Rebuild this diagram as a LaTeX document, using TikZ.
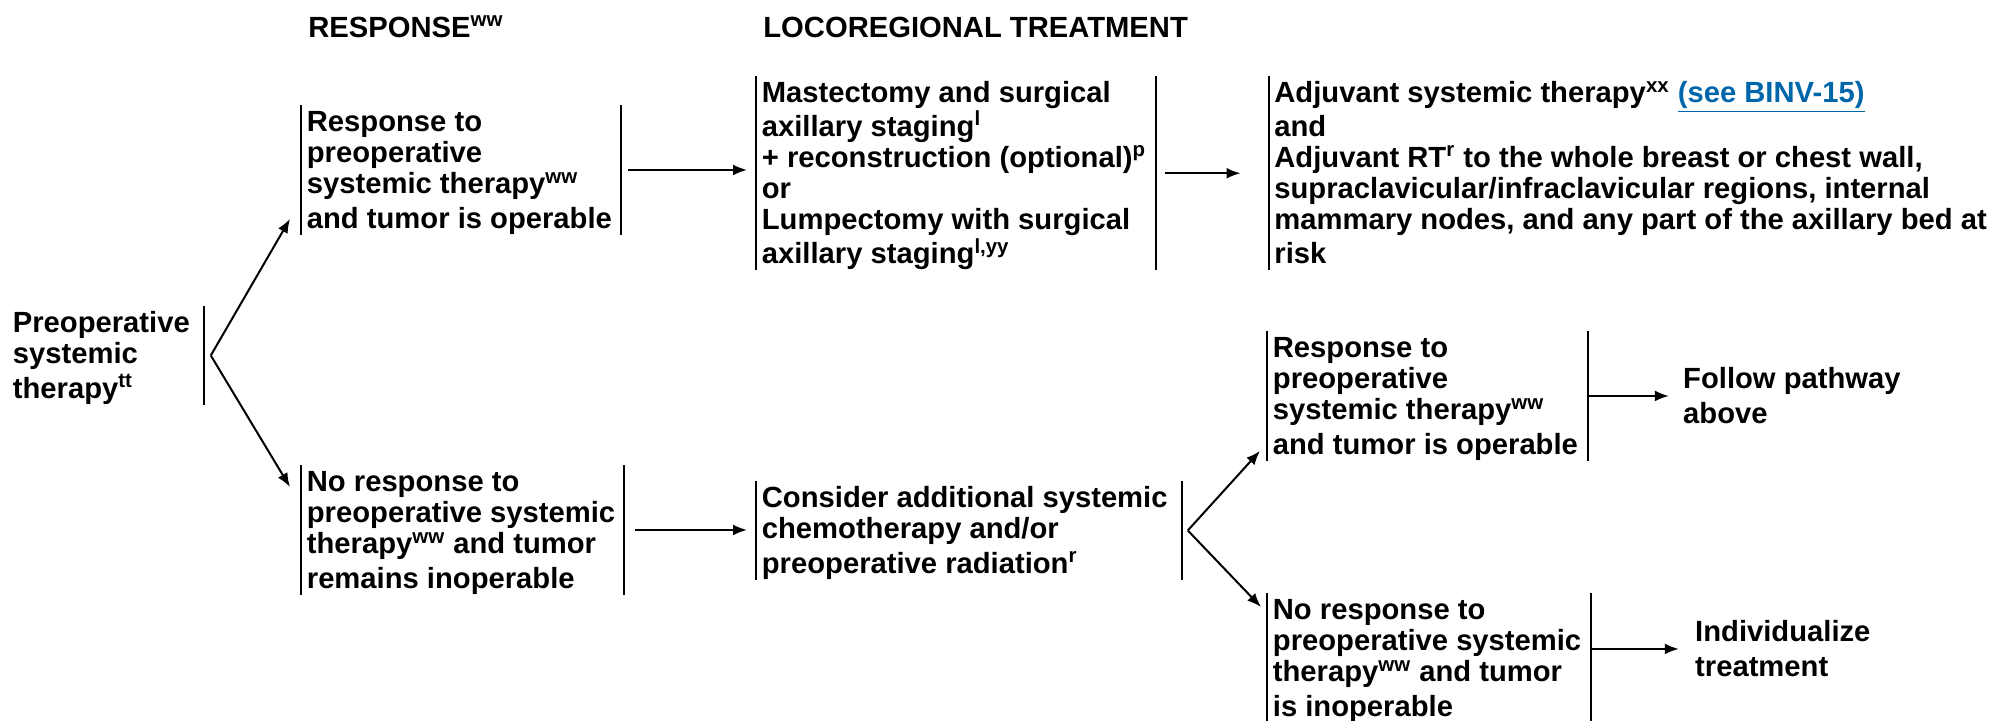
\documentclass[tikz,border=0pt]{standalone}
\usepackage{fontspec}
\setmainfont{Liberation Sans}
\usetikzlibrary{arrows.meta,positioning}
\definecolor{linkblue}{RGB}{0,102,170}
\newcommand{\fnref}[1]{\textsuperscript{#1}}
\newcommand{\tstrut}{\rule[-0.212em]{0pt}{1.117em}}

\begin{document}
\begin{tikzpicture}[
		x=0.5pt, y=-0.5pt,
		font=\fontsize{14.6}{15.5}\selectfont\bfseries,
		txt/.style={anchor=north west, inner xsep=2.75pt, inner ysep=0pt, align=flush left, execute at begin node=\tstrut, execute at end node=\tstrut},
		head/.style={anchor=base west, inner sep=0pt},
		bar/.style={line width=1pt},
		arr/.style={-{Latex[length=7pt,width=5.5pt]}, line width=1pt},
	]
		\useasboundingbox (0,0) rectangle (1994,720);
		
		\node (h1) [head] at (308,37) {RESPONSE\fnref{ww}};
		\node (h2) [head] at (763,37) {LOCOREGIONAL TREATMENT};
		
		\node (preop) [txt, text width=92.5pt] at (7,306) {Preoperative\\ systemic\\ therapy\fnref{tt}};
		\node (resp) [txt, text width=154pt] at (301,105) {Response to\\ preoperative\\ systemic therapy\fnref{ww}\\ and tumor is operable};
		\node (mast) [txt, text width=194pt] at (756,76) {Mastectomy and surgical\\ axillary staging\fnref{l}\\ + reconstruction (optional)\fnref{p}\\ or\\ Lumpectomy with surgical\\ axillary staging\fnref{l,yy}};
		\node (adj) [txt, text width=362pt] at (1268.5,76) {Adjuvant systemic therapy\fnref{xx} \textcolor{linkblue}{\underline{(see BINV-15)}}\\ and\\ Adjuvant RT\fnref{r} to the whole breast or chest wall,\\ supraclavicular/infraclavicular regions, internal\\ mammary nodes, and any part of the axillary bed at\\ risk};
		\node (nresp) [txt, text width=155.5pt] at (301,465) {No response to\\ preoperative systemic\\ therapy\fnref{ww} and tumor\\ remains inoperable};
		\node (cons) [txt, text width=207pt] at (756,481) {Consider additional systemic\\ chemotherapy and/or\\ preoperative radiation\fnref{r}};
		\node (resp2) [txt, text width=154.5pt] at (1267,331) {Response to\\ preoperative\\ systemic therapy\fnref{ww}\\ and tumor is operable};
		\node (nresp2) [txt, text width=156pt] at (1267,593) {No response to\\ preoperative systemic\\ therapy\fnref{ww} and tumor\\ is inoperable};
		\node (follow) [txt, text width=115pt, right=44.75pt of resp2] {Follow pathway\\ above};
		\node (indiv) [txt, text width=95pt, right=49.25pt of nresp2, yshift=4.5pt] {Individualize\\ treatment};
		
		\foreach \n in {resp,mast,nresp,cons,resp2,nresp2}
			\draw[bar] (\n.north west) -- (\n.south west) (\n.north east) -- (\n.south east);
		\draw[bar] (preop.north east) -- (preop.south east);
		\draw[bar] (adj.north west) -- (adj.south west);
		
		\coordinate (fork1) at ([xshift=3.5pt]preop.east);
		\coordinate (fork2) at ([xshift=3pt]cons.east);
		\draw[arr] (fork1) -- ([xshift=-5.5pt,yshift=8pt]resp.south west);
		\draw[arr] (fork1) -- ([xshift=-5.5pt,yshift=-11pt]nresp.north west);
		\draw[arr] (fork2) -- ([xshift=-3.5pt,yshift=5pt]resp2.south west);
		\draw[arr] (fork2) -- ([xshift=-3pt,yshift=-7pt]nresp2.north west);
		
		\draw[arr, shorten <=3.5pt, shorten >=4.5pt] (resp.east) -- (resp.east -| mast.west);
		\draw[arr, shorten <=4.5pt, shorten >=14pt] (mast.east) -- (mast.east -| adj.west);
		\draw[arr, shorten <=5.5pt, shorten >=4.5pt] (nresp.east) -- (nresp.east -| cons.west);
		\draw[arr, shorten <=0.5pt, shorten >=4.25pt] (follow -| resp2.east) -- (follow);
		\draw[arr, shorten <=0.5pt, shorten >=5.25pt] (indiv -| nresp2.east) -- (indiv);
	\end{tikzpicture}
\end{document}
